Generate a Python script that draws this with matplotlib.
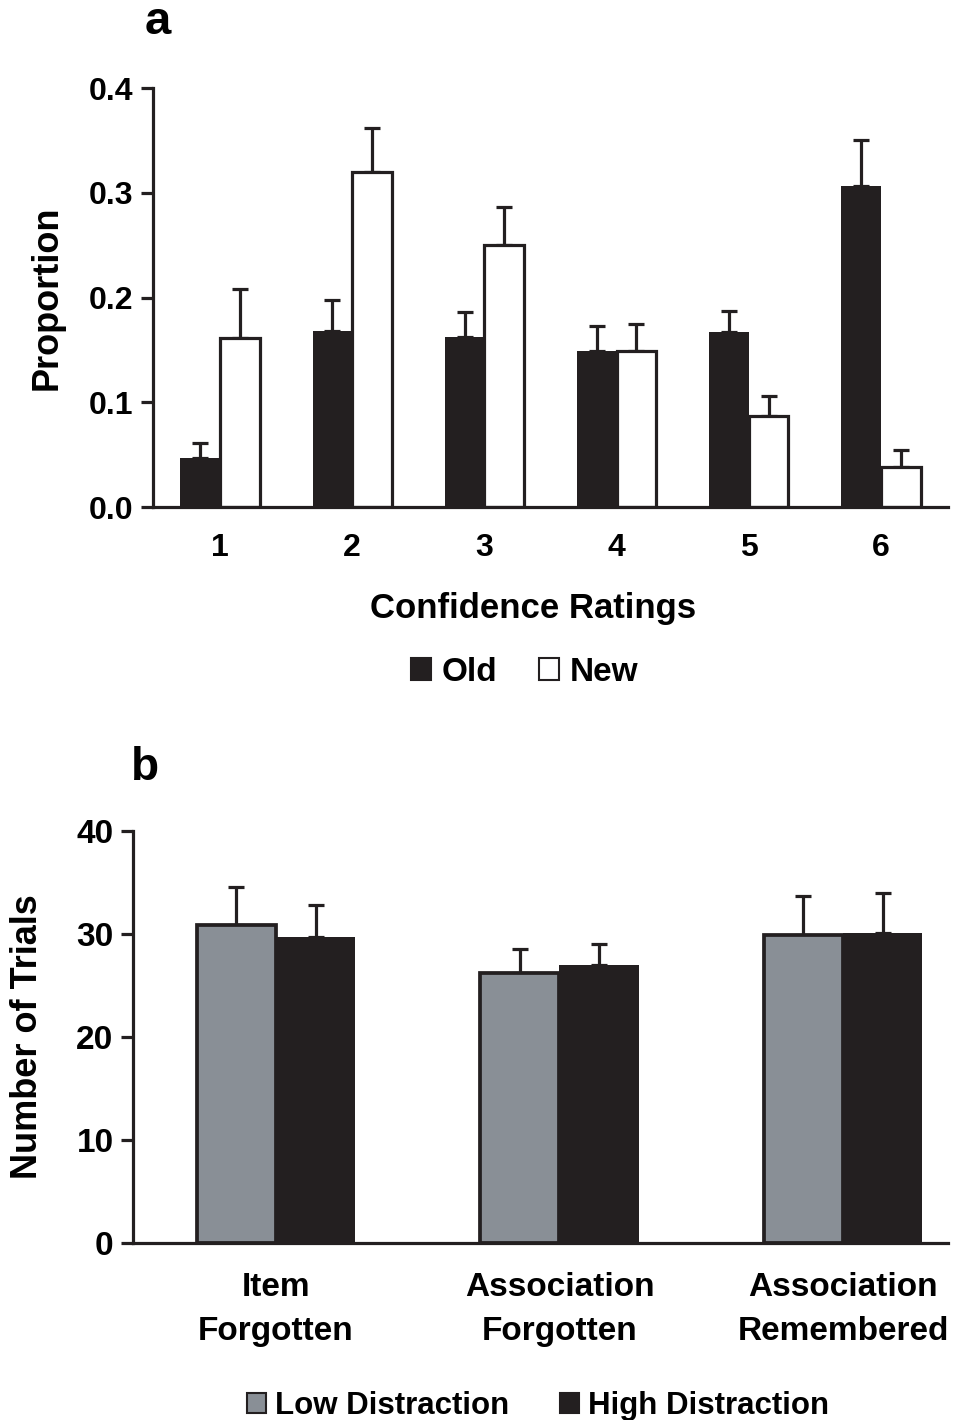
import numpy as np
import matplotlib
matplotlib.use("Agg")
import matplotlib.pyplot as plt
from matplotlib.patches import Patch

plt.rcParams['font.family'] = ['Liberation Sans', 'DejaVu Sans']
plt.rcParams['font.weight'] = 'bold'

# panel a: confidence ratings
ratings = ['1', '2', '3', '4', '5', '6']
old_vals = [0.047, 0.168, 0.162, 0.149, 0.167, 0.306]
old_err = [0.014, 0.030, 0.024, 0.024, 0.020, 0.044]
new_vals = [0.161, 0.320, 0.250, 0.149, 0.087, 0.038]
new_err = [0.047, 0.042, 0.036, 0.026, 0.019, 0.016]

# panel b: number of trials
conditions = ['Item\nForgotten', 'Association\nForgotten', 'Association\nRemembered']
low_vals = [30.9, 26.2, 29.9]
low_err = [3.7, 2.3, 3.8]
high_vals = [29.7, 27.0, 30.1]
high_err = [3.1, 2.0, 3.9]

BLACK = '#231f20'
GREY = '#898f96'
LW = 2.3

fig = plt.figure(figsize=(9.75, 14.2), dpi=100)


def style_axes(ax, ysize):
    for s in ['top', 'right']:
        ax.spines[s].set_visible(False)
    for s in ['left', 'bottom']:
        ax.spines[s].set_linewidth(LW)
        ax.spines[s].set_color(BLACK)
    ax.tick_params(axis='y', direction='out', length=9, width=LW, color=BLACK,
                   labelsize=ysize, pad=5)
    ax.tick_params(axis='x', length=0)
    for lab in ax.get_xticklabels() + ax.get_yticklabels():
        lab.set_fontweight('bold')


def draw_err(ax, x, y, e):
    ax.errorbar(x, y, yerr=[np.zeros(len(e)), e], fmt='none', ecolor=BLACK,
                elinewidth=LW, capsize=5.8, capthick=LW, zorder=1)


# ---- panel a ----
ax1 = fig.add_axes([153 / 975, 1 - 507 / 1420, (948 - 153) / 975, (507 - 88) / 1420])
x = np.arange(1, len(ratings) + 1)
w = 0.3
draw_err(ax1, x - w / 2, old_vals, old_err)
draw_err(ax1, x + w / 2, new_vals, new_err)
ax1.bar(x - w / 2, old_vals, w, color=BLACK, edgecolor=BLACK, linewidth=0, zorder=2)
ax1.bar(x + w / 2, new_vals, w, color='white', edgecolor=BLACK, linewidth=LW, zorder=2)
ax1.set_xlim(0.493, 6.507)
ax1.set_ylim(0, 0.4)
ax1.set_yticks([0.0, 0.1, 0.2, 0.3, 0.4])
ax1.set_yticklabels(['0.0', '0.1', '0.2', '0.3', '0.4'])
ax1.set_xticks(x)
ax1.set_xticklabels(ratings)
style_axes(ax1, 23)
ax1.tick_params(axis='x', labelsize=23, pad=19)
ax1.set_ylabel('Proportion', fontsize=26, fontweight='bold', va='center')
ax1.yaxis.set_label_coords(-0.133, 0.5)
ax1.set_xlabel('Confidence Ratings', fontsize=25, fontweight='bold', va='center')
ax1.xaxis.set_label_coords(0.478, -0.243)
h1 = [Patch(facecolor=BLACK, edgecolor=BLACK, linewidth=1.5),
      Patch(facecolor='white', edgecolor=BLACK, linewidth=1.5)]
leg1 = ax1.legend(h1, ['Old', 'New'], loc='center', bbox_to_anchor=(0.467, -0.395), ncol=2,
                  frameon=False, fontsize=24, handlelength=0.62, handleheight=0.62,
                  handletextpad=0.3, columnspacing=1.25)
for t in leg1.get_texts():
    t.set_fontweight('bold')
fig.text(158 / 975, 1 - 22 / 1420, 'a', fontsize=34, fontweight='bold', ha='center', va='center')

# ---- panel b ----
ax2 = fig.add_axes([133 / 975, 1 - 1243 / 1420, (948 - 133) / 975, (1243 - 831) / 1420])
xb = np.arange(1, len(conditions) + 1)
wb = 0.28
draw_err(ax2, xb - wb / 2, low_vals, low_err)
draw_err(ax2, xb + wb / 2, high_vals, high_err)
ax2.bar(xb - wb / 2, low_vals, wb, color=GREY, edgecolor=BLACK, linewidth=LW + 0.4, zorder=2)
ax2.bar(xb + wb / 2, high_vals, wb, color=BLACK, edgecolor=BLACK, linewidth=0, zorder=2)
ax2.set_xlim(0.496, 3.37)
ax2.set_ylim(0, 40)
ax2.set_yticks([0, 10, 20, 30, 40])
ax2.set_xticks(xb)
ax2.set_xticklabels(conditions, linespacing=1.55)
style_axes(ax2, 24)
ax2.tick_params(axis='x', labelsize=24, pad=21)
ax2.set_ylabel('Number of Trials', fontsize=26, fontweight='bold', va='center')
ax2.yaxis.set_label_coords(-0.130, 0.5)
h2 = [Patch(facecolor=GREY, edgecolor=BLACK, linewidth=1.5),
      Patch(facecolor=BLACK, edgecolor=BLACK, linewidth=1.5)]
leg2 = ax2.legend(h2, ['Low Distraction', 'High Distraction'], loc='center',
                  bbox_to_anchor=(0.497, -0.395), ncol=2, frameon=False, fontsize=22.5,
                  handlelength=0.62, handleheight=0.62, handletextpad=0.3, columnspacing=1.6)
for t in leg2.get_texts():
    t.set_fontweight('bold')
fig.text(145 / 975, 1 - 768 / 1420, 'b', fontsize=33, fontweight='bold', ha='center', va='center')

fig.savefig('out.png', dpi=100)
